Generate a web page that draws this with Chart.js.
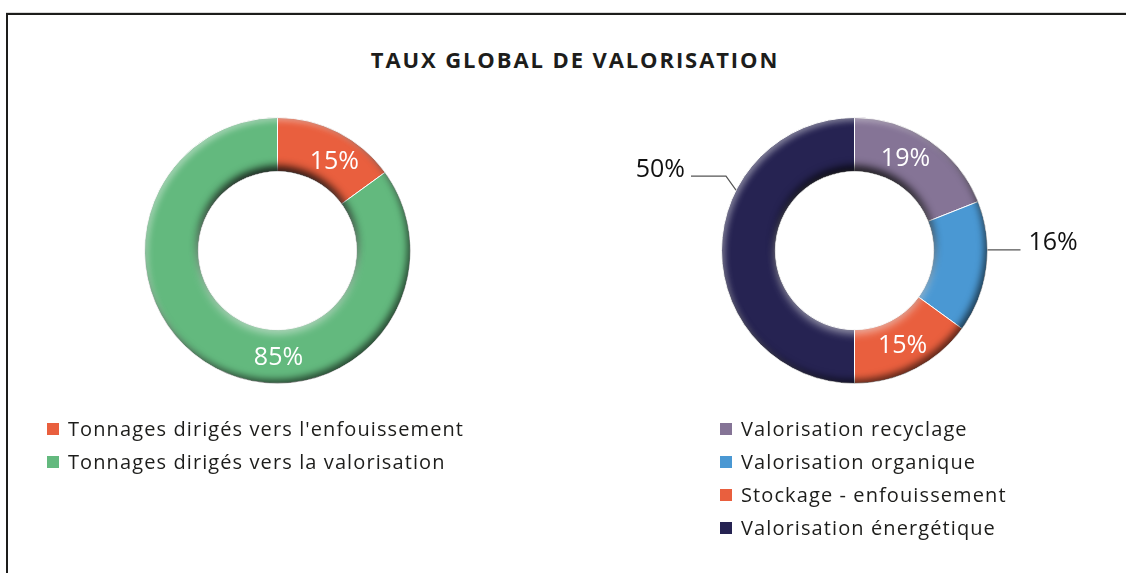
<!DOCTYPE html>
<html lang="fr">
<head>
<meta charset="utf-8">
<title>Taux global de valorisation</title>
<script src="https://cdn.jsdelivr.net/npm/chart.js@4.4.1/dist/chart.umd.min.js"></script>
<style>
  html, body { margin: 0; padding: 0; background: #fff; }
  body { width: 1126px; height: 573px; position: relative; overflow: hidden; font-family: "Open Sans", sans-serif; color: #1d1d1b; }
  .frame { position: absolute; left: 6px; top: 13px; right: -4px; bottom: -4px; border-top: 2px solid #1d1d1b; border-left: 2px solid #1d1d1b; box-shadow: 0 -1px 0 #d8d8d8; }
  h1 { position: absolute; left: 0; width: 1150px; top: 44px; margin: 0; text-align: center; font-size: 22px; font-weight: 700; letter-spacing: 1.9px; }
  canvas { position: absolute; left: 0; top: 0; }
  .legend { position: absolute; list-style: none; margin: 0; padding: 0; font-size: 20px; letter-spacing: 1.1px; }
  .legend li { position: relative; height: 33px; line-height: 33px; padding-left: 21px; white-space: nowrap; }
  .legend li span { position: absolute; left: 0; top: 11px; width: 12px; height: 12px; }
</style>
</head>
<body>
<div class="frame"></div>
<h1>TAUX GLOBAL DE VALORISATION</h1>
<canvas id="leftChart" width="1126" height="573"></canvas>
<canvas id="rightChart" width="1126" height="573"></canvas>
<ul class="legend" id="leftLegend" style="left:47px; top:412px;"></ul>
<ul class="legend" id="rightLegend" style="left:720px; top:412px;"></ul>
<script>
// left donut: destination of tonnages
const leftLabels = ["Tonnages dirigés vers l'enfouissement", 'Tonnages dirigés vers la valorisation'];
const leftValues = [15, 85];
const leftColors = ['#e95f3e', '#63b97e'];

// right donut: detail of treatment
const rightLabels = ['Valorisation recyclage', 'Valorisation organique', 'Stockage - enfouissement', 'Valorisation énergétique'];
const rightValues = [19, 16, 15, 50];
const rightColors = ['#857496', '#4a98d3', '#e95f3e', '#262352'];

// where each percentage goes (frac = position along the arc)
const leftPlacement = [
    { inside: true, frac: 0.6 },
    { inside: true, frac: 0.41 }
];
const rightPlacement = [
    { inside: true, frac: 0.42 },
    { inside: false, frac: 0.37, side: 'right' },
    { inside: true, frac: 0.5 },
    { inside: false, frac: 0.65, side: 'left' }
];

const FONT = '"Open Sans", sans-serif';

// bevel look: light from the top left
const bevelPlugin = {
    id: 'bevel',
    afterDatasetsDraw(chart) {
        const arc = chart.getDatasetMeta(0).data[0];
        if (!arc) return;
        const { x, y, innerRadius, outerRadius } = arc.getProps(['x', 'y', 'innerRadius', 'outerRadius'], true);
        const ctx = chart.ctx;
        ctx.save();
        ctx.beginPath();
        ctx.arc(x, y, outerRadius, 0, Math.PI * 2);
        ctx.arc(x, y, innerRadius, 0, Math.PI * 2, true);
        ctx.clip();

        const shade = (color, dx, dy, blur, outer) => {
            ctx.save();
            ctx.shadowColor = color;
            ctx.shadowBlur = blur;
            ctx.shadowOffsetX = dx;
            ctx.shadowOffsetY = dy;
            ctx.fillStyle = '#fff';
            ctx.beginPath();
            if (outer) {
                ctx.rect(x - outerRadius - 60, y - outerRadius - 60, outerRadius * 2 + 120, outerRadius * 2 + 120);
                ctx.arc(x, y, outerRadius, 0, Math.PI * 2, true);
            } else {
                ctx.arc(x, y, innerRadius, 0, Math.PI * 2);
            }
            ctx.fill('evenodd');
            ctx.restore();
        };
        // inner rim: dark on top, light at the bottom
        shade('rgba(0,0,0,0.9)', 0, -5, 8, false);
        shade('rgba(255,255,255,0.55)', 0, 4, 8, false);
        // outer rim: light top left, dark bottom right
        shade('rgba(255,255,255,0.45)', 3, 3, 6, true);
        shade('rgba(0,0,0,0.6)', -3, -4, 7, true);
        ctx.restore();
    }
};

const pctPlugin = {
    id: 'pct',
    afterDraw(chart, args, opts) {
        const ctx = chart.ctx;
        const values = chart.data.datasets[0].data;
        chart.getDatasetMeta(0).data.forEach((arc, i) => {
            const p = opts.placement[i];
            const { x, y, startAngle, endAngle, innerRadius, outerRadius } =
                arc.getProps(['x', 'y', 'startAngle', 'endAngle', 'innerRadius', 'outerRadius'], true);
            const a = startAngle + (endAngle - startAngle) * p.frac;
            const text = values[i] + '%';
            ctx.save();
            ctx.font = '500 25px ' + FONT;
            ctx.textBaseline = 'middle';
            if (p.inside) {
                const r = (innerRadius + outerRadius) / 2;
                ctx.fillStyle = '#ffffff';
                ctx.textAlign = 'center';
                ctx.fillText(text, x + Math.cos(a) * r, y + Math.sin(a) * r + 1);
            } else {
                const ax = x + Math.cos(a) * outerRadius;
                const ay = y + Math.sin(a) * outerRadius;
                ctx.strokeStyle = '#555';
                ctx.lineWidth = 1.2;
                ctx.beginPath();
                ctx.moveTo(ax, ay);
                if (p.side === 'left') {
                    ctx.lineTo(ax - 10, ay - 14);
                    ctx.lineTo(ax - 45, ay - 14);
                    ctx.stroke();
                    ctx.fillStyle = '#111';
                    ctx.textAlign = 'right';
                    ctx.fillText(text, ax - 51, ay - 20);
                } else {
                    ctx.lineTo(ax + 33, ay);
                    ctx.stroke();
                    ctx.fillStyle = '#111';
                    ctx.textAlign = 'left';
                    ctx.fillText(text, ax + 41, ay - 7);
                }
            }
            ctx.restore();
        });
    }
};

function makeDonut(canvasId, labels, values, colors, placement, padding) {
    return new Chart(document.getElementById(canvasId), {
        type: 'doughnut',
        data: {
            labels: labels,
            datasets: [{
                data: values,
                backgroundColor: colors,
                borderColor: '#ffffff',
                borderWidth: 1
            }]
        },
        options: {
            responsive: false,
            animation: false,
            cutout: '59.5%',
            layout: { padding: padding },
            plugins: {
                legend: { display: false },
                tooltip: { enabled: false },
                pct: { placement: placement }
            }
        },
        plugins: [bevelPlugin, pctPlugin]
    });
}

function buildLegend(listId, labels, colors) {
    const list = document.getElementById(listId);
    labels.forEach((label, i) => {
        const li = document.createElement('li');
        const box = document.createElement('span');
        box.style.background = colors[i];
        li.appendChild(box);
        li.appendChild(document.createTextNode(label));
        list.appendChild(li);
    });
}

makeDonut('leftChart', leftLabels, leftValues, leftColors, leftPlacement,
    { left: 144, right: 715, top: 117, bottom: 189 });
makeDonut('rightChart', rightLabels, rightValues, rightColors, rightPlacement,
    { left: 721, right: 138, top: 117, bottom: 189 });

buildLegend('leftLegend', leftLabels, leftColors);
buildLegend('rightLegend', rightLabels, rightColors);
</script>
</body>
</html>
